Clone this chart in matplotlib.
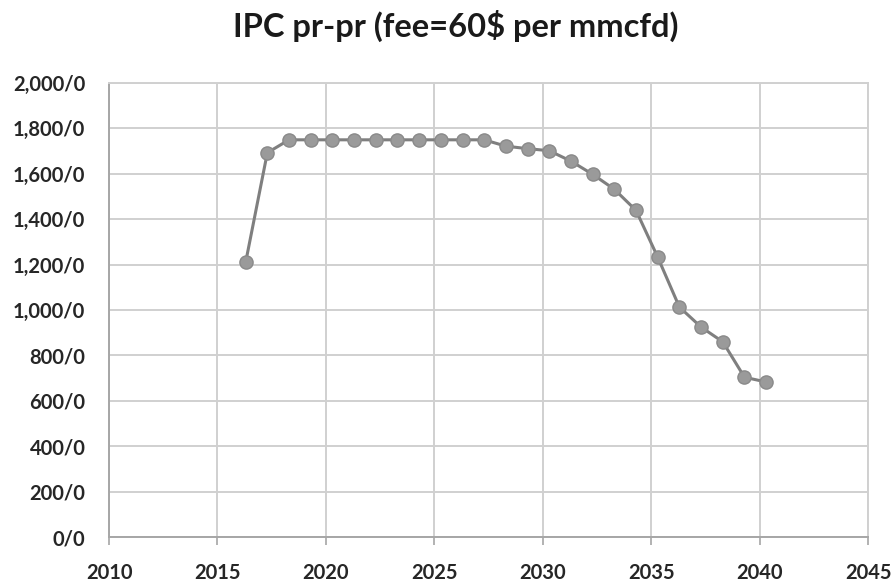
import matplotlib
matplotlib.use('Agg')
import matplotlib.pyplot as plt
from matplotlib.ticker import FuncFormatter, MultipleLocator

# values
years = [2016.3, 2017.3, 2018.3, 2019.3, 2020.3, 2021.3, 2022.3, 2023.3, 2024.3,
         2025.3, 2026.3, 2027.3, 2028.3, 2029.3, 2030.3, 2031.3, 2032.3, 2033.3,
         2034.3, 2035.3, 2036.3, 2037.3, 2038.3, 2039.3, 2040.3]
output = [1210, 1693, 1750, 1750, 1750, 1750, 1750, 1750, 1750,
          1750, 1750, 1750, 1722, 1711, 1702, 1656, 1598, 1532,
          1439, 1233, 1013, 925, 860, 704, 683]
title = 'IPC pr-pr (fee=60$ per mmcfd)'

plt.rcParams['font.family'] = ['Lato', 'DejaVu Sans']

fig = plt.figure(figsize=(8.92, 5.85), dpi=100)
ax = fig.add_axes([0.1222, 0.082, 0.851, 0.776])

ax.plot(years, output, color='#7f7f7f', lw=2.2, marker='o', ms=9.5,
        markerfacecolor='#9a9a9a', markeredgecolor='#8a8a8a', zorder=3)

ax.set_xlim(2010, 2045)
ax.set_ylim(0, 2000)
ax.xaxis.set_major_locator(MultipleLocator(5))
ax.yaxis.set_major_locator(MultipleLocator(200))
ax.yaxis.set_major_formatter(FuncFormatter(lambda v, p: '{:,}/0'.format(int(round(v)))))

ax.grid(True, color='#d0d0d0', lw=1.4)
ax.set_axisbelow(True)
# top/right edges look like ordinary gridlines in the original
for s in ['top', 'right']:
    ax.spines[s].set_color('#d0d0d0')
    ax.spines[s].set_linewidth(1.4)
for s in ['left', 'bottom']:
    ax.spines[s].set_color('#a6a6a6')
    ax.spines[s].set_linewidth(1.4)

ax.tick_params(axis='y', length=0, pad=17, labelsize=14.5, labelcolor='#262626')
ax.tick_params(axis='x', length=6, width=1.2, color='#a6a6a6', pad=13,
               labelsize=14.5, labelcolor='#262626')
for lab in ax.get_xticklabels() + ax.get_yticklabels():
    lab.set_fontweight('bold')

fig.text(0.511, 0.955, title, ha='center', va='center', fontsize=23.5,
         fontweight='bold', color='#1a1a1a')

fig.savefig('out.png', dpi=100)
